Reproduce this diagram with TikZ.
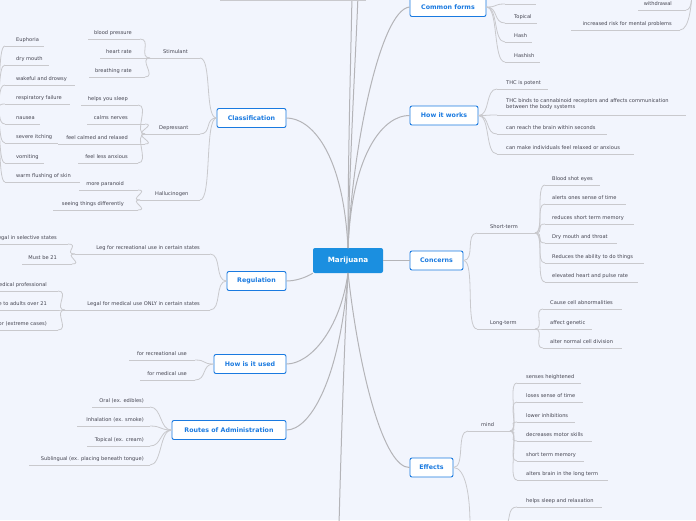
\documentclass[tikz,border=0pt]{standalone}
\usepackage{fontspec}
\setmainfont{DejaVu Sans}
\definecolor{bg}{HTML}{F2F5FD}
\definecolor{mblue}{HTML}{1B8FE0}
\definecolor{bblue}{HTML}{1A7AE0}
\definecolor{cg}{HTML}{C9C9CD}
\definecolor{mg}{HTML}{B4B4B8}
\definecolor{tx}{HTML}{444450}
\tikzset{
 lab/.style={inner sep=0pt,font=\fontsize{5.1}{6}\selectfont,text=tx,align=left},
 ul/.style={draw=cg,line width=0.8pt},
 con/.style={draw=cg,line width=0.8pt},
 mcon/.style={draw=mg,line width=1pt},
 topic/.style={draw=bblue,fill=white,rounded corners=2pt,line width=0.9pt,text=bblue,font=\fontsize{6.3}{7}\selectfont\bfseries,minimum height=19pt,inner xsep=6pt},
 center/.style={fill=mblue,rounded corners=2pt,text=white,font=\fontsize{7.2}{8}\selectfont\bfseries,minimum height=25pt,minimum width=70pt},
}
\newcommand\lf[6]{\node[lab,anchor=west] (#1) at (#2,#3) {#6};
 \coordinate (#1l) at (#4,#3+6); \coordinate (#1r) at (#5,#3+6); \draw[ul] (#1l)--(#1r);}
\newcommand\lfe[6]{\node[lab,anchor=east] (#1) at (#2,#3) {#6};
 \coordinate (#1l) at (#4,#3+6); \coordinate (#1r) at (#5,#3+6); \draw[ul] (#1l)--(#1r);}
\newcommand\cR[2]{\draw[con] (#1) .. controls +(12,0) and +(-12,0) .. (#2);}
\newcommand\cL[2]{\draw[con] (#1) .. controls +(-12,0) and +(12,0) .. (#2);}
\begin{document}
\begin{tikzpicture}[x=1pt,y=-1pt]
\useasboundingbox (0,0) rectangle (696,520);
\fill[bg] (0,0) rectangle (696,520);
\clip (0,0) rectangle (696,520);
% main nodes
\node[center] (m) at (348,260.5) {Marijuana};
\node[topic,minimum width=76pt] (cf) at (448,7) {Common forms};
\node[topic,minimum width=68pt] (hw) at (444,115.5) {How it works};
\node[topic,minimum width=53pt] (co) at (436.5,260.5) {Concerns};
\node[topic,minimum width=43pt] (ef) at (431.5,467.5) {Effects};
\node[topic,minimum width=69pt] (cl) at (251.5,118) {Classification};
\node[topic,minimum width=59pt] (re) at (256.5,281) {Regulation};
\node[topic,minimum width=72pt] (hu) at (250,364) {How is it used};
\node[topic,minimum width=114pt] (ro) at (229,430) {Routes of Administration};
% off-screen coordinates
\coordinate (up1) at (352,-5); \coordinate (up2) at (358,-5);
\coordinate (dn) at (339,525);
\coordinate (mt) at (348,248); \coordinate (mb) at (348,273);
% main connectors
\draw[mcon] (mt) .. controls (352,150) and (380,10) .. (cf.west);
\draw[mcon] (mt) .. controls (352,150) and (385,115) .. (hw.west);
\draw[mcon] (m.east) -- (co.west);
\draw[mcon] (mb) .. controls (360,380) and (385,468) .. (ef.west);
\draw[mcon] (mt) .. controls (343,150) and (310,118) .. (cl.east);
\draw[mcon] (m.south west) .. controls (305,278) and (295,281) .. (re.east);
\draw[mcon] (mb) .. controls (340,330) and (310,364) .. (hu.east);
\draw[mcon] (mb) .. controls (340,380) and (310,430) .. (ro.east);
\draw[mcon] (mb) .. controls (344,350) and (341,450) .. (dn);
\draw[mcon] (mt) .. controls (348,150) and (351,50) .. (up1);
\draw[mcon] (mt) .. controls (350,150) and (356,50) .. (up2);
% top-left stray underline
\coordinate (tl1) at (220,0); \coordinate (tl2) at (366,0); \draw[ul] (tl1)--(tl2);
% Classification
\lf{st}{163}{52}{150}{200}{Stimulant}
\lf{de}{159}{128}{145}{200}{Depressant}
\lf{ha}{155}{194}{140}{200}{Hallucinogen}
\cL{cl.west}{str} \cL{cl.west}{der} \cL{cl.west}{har}
\lfe{bp}{132}{33}{88}{140}{blood pressure}
\lfe{hr}{132}{52}{100}{150}{heart rate}
\lfe{brr}{132}{71}{89}{145}{breathing rate}
\cL{stl}{bpr} \cL{stl}{hrr} \cL{stl}{brrr}
\lfe{hs}{128}{99}{81}{138}{helps you sleep}
\lfe{cn}{128}{118}{87}{145}{calms nerves}
\lfe{fc}{128}{138}{58}{145}{feel calmed and relaxed}
\lfe{fl}{128}{157}{78}{138}{feel less anxious}
\cL{del}{hsr} \cL{del}{cnr} \cL{del}{fcr} \cL{del}{flr}
\lfe{mp}{124}{184}{79}{138}{more paranoid}
\lfe{sd}{124}{204}{53}{138}{seeing things differently}
\cL{hal}{mpr} \cL{hal}{sdr}
\coordinate (lp) at (-6,107);
\lf{e1}{16}{40}{5}{44}{Euphoria}
\lf{e2}{16}{59}{5}{49}{dry mouth}
\lf{e3}{16}{79}{5}{75}{wakeful and drowsy}
\lf{e4}{16}{98}{5}{70}{respiratory failure}
\lf{e5}{16}{118}{5}{40}{nausea}
\lf{e6}{16}{137}{5}{58}{severe itching}
\lf{e7}{16}{157}{5}{44}{vomiting}
\lf{e8}{16}{176}{5}{80}{warm flushing of skin}
\foreach \n in {e1,e2,e3,e4,e5,e6,e7,e8}{\draw[con] (lp) .. controls +(8,0) and +(-8,0) .. (\n l);}
% Regulation
\lfe{lr}{200}{248}{75}{210}{Leg for recreational use in certain states}
\lfe{lm}{200}{304}{65}{210}{Legal for medical use ONLY in certain states}
\cL{re.west}{lrr} \cL{re.west}{lmr}
\lfe{r1}{57}{238}{-10}{68}{Legal in selective states}
\lfe{r2}{57}{258}{22}{72}{Must be 21}
\cL{lrl}{r1r} \cL{lrl}{r2r}
\lfe{r3}{47}{285}{-10}{58}{Recommended by a medical professional}
\lfe{r4}{47}{304}{-10}{58}{Only available to adults over 21}
\lfe{r5}{47}{324}{-10}{58}{Only for (extreme cases)}
\cL{lml}{r3r} \cL{lml}{r4r} \cL{lml}{r5r}
% How is it used
\lfe{u1}{187}{354}{129}{195}{for recreational use}
\lfe{u2}{187}{374}{140}{195}{for medical use}
\cL{hu.west}{u1r} \cL{hu.west}{u2r}
% Routes
\lfe{o1}{144}{401}{92}{150}{Oral (ex. edibles)}
\lfe{o2}{144}{420}{77}{150}{Inhalation (ex. smoke)}
\lfe{o3}{144}{440}{87}{150}{Topical (ex. cream)}
\lfe{o4}{144}{459}{29}{150}{Sublingual (ex. placing beneath tongue)}
\cL{ro.west}{o1r} \cL{ro.west}{o2r} \cL{ro.west}{o3r} \cL{ro.west}{o4r}
% Common forms
\coordinate (c0l) at (505,4); \coordinate (c0r) at (536,4); \draw[ul] (c0l)--(c0r);
\lf{c1}{514}{17}{505}{537}{Topical}
\lf{c2}{514}{36}{505}{532}{Hash}
\lf{c3}{514}{56}{505}{540}{Hashish}
\cR{cf.east}{c0l} \cR{cf.east}{c1l} \cR{cf.east}{c2l} \cR{cf.east}{c3l}
\lfe{w1}{672}{4}{638}{686}{withdrawal}
\lfe{w2}{672}{24}{571}{680}{increased risk for mental problems}
\coordinate (wp) at (692,-12);
\draw[con] (w1r) .. controls +(6,0) and +(0,8) .. (wp);
\draw[con] (w2r) .. controls +(10,0) and +(0,12) .. (wp);
% How it works
\lf{h1}{506}{83}{497}{548}{THC is potent}
\node[lab,anchor=west] (h2) at (506,104.5) {THC binds to cannabinoid receptors and affects communication\\between the body systems};
\coordinate (h2l) at (497,115); \coordinate (h2r) at (686,115); \draw[ul] (h2l)--(h2r);
\lf{h3}{506}{128}{497}{607}{can reach the brain within seconds}
\lf{h4}{506}{148}{497}{634}{can make individuals feel relaxed or anxious}
\cR{hw.east}{h1l} \cR{hw.east}{h2l} \cR{hw.east}{h3l} \cR{hw.east}{h4l}
% Concerns
\lf{s}{490}{227}{477}{535}{Short-term}
\lf{lt}{490}{323}{477}{535}{Long-term}
\cR{co.east}{sl} \cR{co.east}{ltl}
\lf{s1}{552}{179}{545}{600}{Blood shot eyes}
\lf{s2}{552}{198}{545}{626}{alerts ones sense of time}
\lf{s3}{552}{218}{545}{634}{reduces short term memory}
\lf{s4}{552}{237}{545}{617}{Dry mouth and throat}
\lf{s5}{552}{257}{545}{644}{Reduces the ability to do things}
\lf{s6}{552}{276}{545}{638}{elevated heart and pulse rate}
\foreach \n in {s1,s2,s3,s4,s5,s6}{\draw[con] (sr) .. controls +(10,0) and +(-10,0) .. (\n l);}
\lf{l1}{550}{303}{543}{622}{Cause cell abnormalities}
\lf{l2}{550}{323}{543}{592}{affect genetic}
\lf{l3}{550}{342}{543}{622}{alter normal cell division}
\foreach \n in {l1,l2,l3}{\draw[con] (ltr) .. controls +(10,0) and +(-10,0) .. (\n l);}
% Effects
\lf{mi}{481}{425}{468}{510}{mind}
\coordinate (bo) at (470,525);
\cR{ef.east}{mil}
\draw[con] (ef.east) .. controls +(12,0) and +(0,-30) .. (bo);
\lf{f1}{526}{377}{517}{581}{senses heightened}
\lf{f2}{526}{396}{517}{583}{loses sense of time}
\lf{f3}{526}{416}{517}{575}{lower inhibitions}
\lf{f4}{526}{435}{517}{592}{decreases motor skills}
\lf{f5}{526}{455}{517}{584}{short term memory}
\lf{f6}{526}{474}{517}{608}{alters brain in the long term}
\foreach \n in {f1,f2,f3,f4,f5,f6}{\draw[con] (mir) .. controls +(10,0) and +(-10,0) .. (\n l);}
\lf{b1}{526}{501}{517}{602}{helps sleep and relaxation}
\coordinate (bp2) at (505,530);
\draw[con] (bp2) .. controls +(6,-10) and +(-10,0) .. (b1l);
\end{tikzpicture}
\end{document}
